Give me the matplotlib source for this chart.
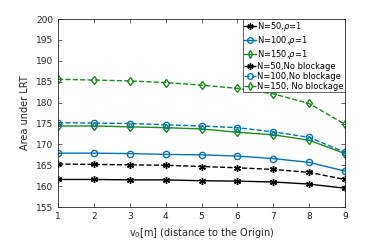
import numpy as np
import matplotlib.pyplot as plt

x = [1, 2, 3, 4, 5, 6, 7, 8, 9]
n50_rho = [161.6, 161.6, 161.5, 161.5, 161.3, 161.2, 161.0, 160.5, 159.5]
n100_rho = [167.9, 167.9, 167.8, 167.6, 167.5, 167.2, 166.6, 165.7, 163.6]
n150_rho = [174.4, 174.4, 174.2, 174.0, 173.7, 172.9, 172.3, 171.0, 167.8]
n50_nb = [165.3, 165.2, 165.1, 165.0, 164.7, 164.4, 164.0, 163.3, 161.6]
n100_nb = [175.2, 175.1, 175.0, 174.7, 174.4, 174.0, 173.0, 171.7, 168.1]
n150_nb = [185.6, 185.4, 185.2, 184.8, 184.2, 183.4, 182.1, 179.8, 174.8]

labels = ["N=50,$\\rho$=1", "N=100,$\\rho$=1", "N=150,$\\rho$=1",
          "N=50,No blockage", "N=100,No blockage", "N=150, No blockage"]

black = "black"
blue = "#0072BD"
green = "#1a8c1a"

fig = plt.figure(figsize=(3.82, 2.45), dpi=100)
ax = fig.add_axes([0.152, 0.155, 0.751, 0.767])

ax.plot(x, n50_rho, "-", color=black, marker=(6, 2, 0), ms=5, lw=1, label=labels[0])
ax.plot(x, n100_rho, "-", color=blue, marker="o", ms=4.5, mfc="none", lw=1, label=labels[1])
ax.plot(x, n150_rho, "-", color=green, marker="d", ms=4.5, mfc="none", lw=1, label=labels[2])
ax.plot(x, n50_nb, "--", color=black, marker=(6, 2, 0), ms=5, lw=1, label=labels[3])
ax.plot(x, n100_nb, "--", color=blue, marker="o", ms=4.5, mfc="none", lw=1, label=labels[4])
ax.plot(x, n150_nb, "--", color=green, marker="d", ms=4.5, mfc="none", lw=1, label=labels[5])

ax.set_xlim(1, 9)
ax.set_ylim(155, 200)
ax.set_xticks(x)
ax.set_yticks(np.arange(155, 201, 5))
ax.tick_params(direction="in", top=True, right=True, labelsize=6.5, colors="#262626",
               length=3, width=0.5)
for s in ax.spines.values():
    s.set_linewidth(0.6)
    s.set_color("#262626")

ax.set_xlabel("v$_0$[m] (distance to the Origin)", fontsize=7, color="#262626")
ax.set_ylabel("Area under LRT", fontsize=7, color="#262626")

leg = ax.legend(loc="upper right", fontsize=6, handlelength=1.4, handletextpad=0.2,
                labelspacing=0.1, borderpad=0.15, borderaxespad=0, fancybox=False,
                framealpha=1, edgecolor="#262626", markerscale=0.9)
leg.get_frame().set_linewidth(0.5)

plt.savefig("out.png", dpi=100)
